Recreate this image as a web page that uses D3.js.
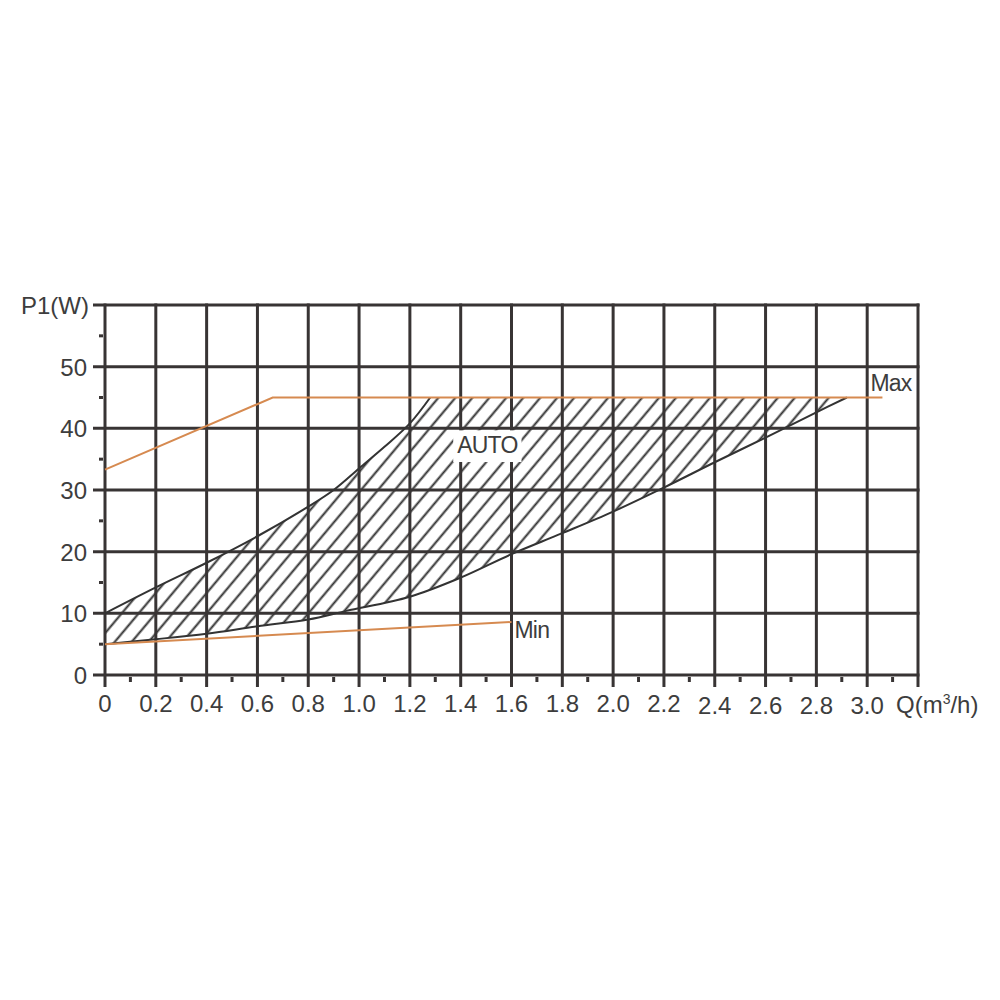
<!DOCTYPE html>
<html>
<head>
<meta charset="utf-8">
<script src="https://cdn.jsdelivr.net/npm/d3@7"></script>
<style>
  body { margin: 0; background: #fff; }
  svg text { font-family: "Liberation Sans", Arial, sans-serif; fill: #3d3d3d; }
</style>
</head>
<body>
<svg id="chart" width="1000" height="1000"></svg>
<script>
// tick values and labels
var xTicks = [0, 0.2, 0.4, 0.6, 0.8, 1.0, 1.2, 1.4, 1.6, 1.8, 2.0, 2.2, 2.4, 2.6, 2.8, 3.0, 3.2],
    xLabels = ["0", "0.2", "0.4", "0.6", "0.8", "1.0", "1.2", "1.4", "1.6", "1.8", "2.0", "2.2", "2.4", "2.6", "2.8", "3.0"],
    xMinor = [0.1, 0.3, 0.5, 0.7, 0.9, 1.1, 1.3, 1.5, 1.7, 1.9, 2.1, 2.3, 2.5, 2.7, 2.9, 3.1],
    yTicks = [0, 10, 20, 30, 40, 50, 60],
    yLabels = ["0", "10", "20", "30", "40", "50"],
    yMinor = [5, 15, 25, 35, 45, 55];

// curves: [Q, P1]
var maxCurve = [[0, 33.3], [0.66, 45], [3.06, 45]],
    minCurve = [[0, 5], [1.6, 8.6]];

var autoUpper = [[0, 10], [0.2, 14.2], [0.4, 18.2], [0.6, 22.5], [0.8, 27.3], [0.9, 30],
                 [1.0, 33.5], [1.1, 37], [1.2, 40.8], [1.28, 45]],
    autoLower = [[0, 5], [0.2, 5.8], [0.4, 6.7], [0.6, 7.9], [0.8, 9.0], [0.95, 10.4],
                 [1.2, 12.7], [1.4, 15.8], [1.6, 19.6], [1.8, 23], [2.0, 26.5], [2.2, 30.4],
                 [2.4, 34.5], [2.6, 38.5], [2.8, 42.6], [2.92, 45]];

var gridColor = "#383434",
    orange = "#d68a50";

var svg = d3.select("#chart");

var x = d3.scaleLinear().domain([0, 3.2]).range([105, 918]);
var y = d3.scaleLinear().domain([0, 60]).range([675, 305]);

var line = d3.line()
  .x(function(d){ return x(d[0]); })
  .y(function(d){ return y(d[1]); });

var smooth = d3.line()
  .x(function(d){ return x(d[0]); })
  .y(function(d){ return y(d[1]); })
  .curve(d3.curveCatmullRom.alpha(0.5));

// hatch pattern
var defs = svg.append("defs");
var pat = defs.append("pattern")
  .attr("id", "hatch")
  .attr("patternUnits", "userSpaceOnUse")
  .attr("width", 13)
  .attr("height", 10)
  .attr("patternTransform", "rotate(40)");
pat.append("line")
  .attr("x1", 6.5).attr("x2", 6.5)
  .attr("y1", -1).attr("y2", 11)
  .attr("stroke", "#2f2f2f")
  .attr("stroke-width", 2);

// auto region: upper edge, along 45 W, back down the lower edge
var lowerRev = autoLower.slice().reverse();
svg.append("path")
  .attr("d", smooth(autoUpper) + "L" + smooth(lowerRev).slice(1) + "Z")
  .attr("fill", "url(#hatch)")
  .attr("stroke", "none");

// grid
var grid = svg.append("g").attr("class", "grid");
grid.selectAll("line.v")
  .data(xTicks)
  .enter().append("line")
  .attr("class", "v")
  .attr("x1", function(d){ return x(d); })
  .attr("x2", function(d){ return x(d); })
  .attr("y1", y(60) - 1.5)
  .attr("y2", y(0) + 12)
  .attr("stroke", gridColor)
  .attr("stroke-width", 3);

grid.selectAll("line.h")
  .data(yTicks)
  .enter().append("line")
  .attr("class", "h")
  .attr("x1", x(0) - 12)
  .attr("x2", x(3.2) + 1.5)
  .attr("y1", function(d){ return y(d); })
  .attr("y2", function(d){ return y(d); })
  .attr("stroke", gridColor)
  .attr("stroke-width", 3);

grid.selectAll("line.xm")
  .data(xMinor)
  .enter().append("line")
  .attr("x1", function(d){ return x(d); })
  .attr("x2", function(d){ return x(d); })
  .attr("y1", y(0) + 2)
  .attr("y2", y(0) + 7)
  .attr("stroke", gridColor)
  .attr("stroke-width", 3);

grid.selectAll("line.ym")
  .data(yMinor)
  .enter().append("line")
  .attr("x1", x(0) - 6)
  .attr("x2", x(0) - 2)
  .attr("y1", function(d){ return y(d); })
  .attr("y2", function(d){ return y(d); })
  .attr("stroke", gridColor)
  .attr("stroke-width", 3);

// auto boundaries
svg.append("path")
  .attr("d", smooth(autoUpper))
  .attr("fill", "none")
  .attr("stroke", "#333")
  .attr("stroke-width", 2);
svg.append("path")
  .attr("d", smooth(autoLower))
  .attr("fill", "none")
  .attr("stroke", "#333")
  .attr("stroke-width", 2);

// max / min curves
svg.append("path")
  .attr("d", line(maxCurve))
  .attr("fill", "none")
  .attr("stroke", orange)
  .attr("stroke-width", 2);
svg.append("path")
  .attr("d", line(minCurve))
  .attr("fill", "none")
  .attr("stroke", orange)
  .attr("stroke-width", 2);

// tick labels
svg.selectAll("text.xl")
  .data(xLabels)
  .enter().append("text")
  .attr("class", "xl")
  .attr("x", function(d, i){ return x(xTicks[i]); })
  .attr("y", function(d, i){ return xTicks[i] >= 2.4 ? 714 : 712; })
  .attr("text-anchor", "middle")
  .attr("font-size", 24)
  .text(function(d){ return d; });

svg.selectAll("text.yl")
  .data(yLabels)
  .enter().append("text")
  .attr("class", "yl")
  .attr("x", x(0) - 18)
  .attr("y", function(d, i){ return y(yTicks[i]) + 9; })
  .attr("text-anchor", "end")
  .attr("font-size", 24)
  .text(function(d){ return d; });

// axis titles
svg.append("text")
  .attr("x", 89).attr("y", y(60) + 9)
  .attr("text-anchor", "end")
  .attr("font-size", 24)
  .text("P1(W)");

var qt = svg.append("text")
  .attr("x", 896).attr("y", 713)
  .attr("font-size", 24);
qt.append("tspan").text("Q(m");
qt.append("tspan").attr("font-size", 14).attr("dy", -9).text("3");
qt.append("tspan").attr("dy", 9).text("/h)");

// curve labels
svg.append("text")
  .attr("x", x(maxCurve[2][0]) - 12).attr("y", y(45) - 7)
  .attr("font-size", 23)
  .attr("letter-spacing", -0.8)
  .text("Max");
svg.append("text")
  .attr("x", x(minCurve[1][0]) + 3).attr("y", y(minCurve[1][1]) + 16)
  .attr("font-size", 23)
  .attr("letter-spacing", -0.8)
  .text("Min");

// AUTO label with white box
var autoG = svg.append("g");
var autoBox = autoG.append("rect").attr("fill", "#fff");
var autoT = autoG.append("text")
  .attr("x", x(1.505)).attr("y", y(36))
  .attr("text-anchor", "middle")
  .attr("font-size", 23)
  .attr("letter-spacing", -0.8)
  .text("AUTO");
var bb = autoT.node().getBBox();
autoBox
  .attr("x", bb.x - 4)
  .attr("y", y(40) + 2)
  .attr("width", bb.width + 8)
  .attr("height", bb.y + bb.height - y(40) + 2);
</script>
</body>
</html>
